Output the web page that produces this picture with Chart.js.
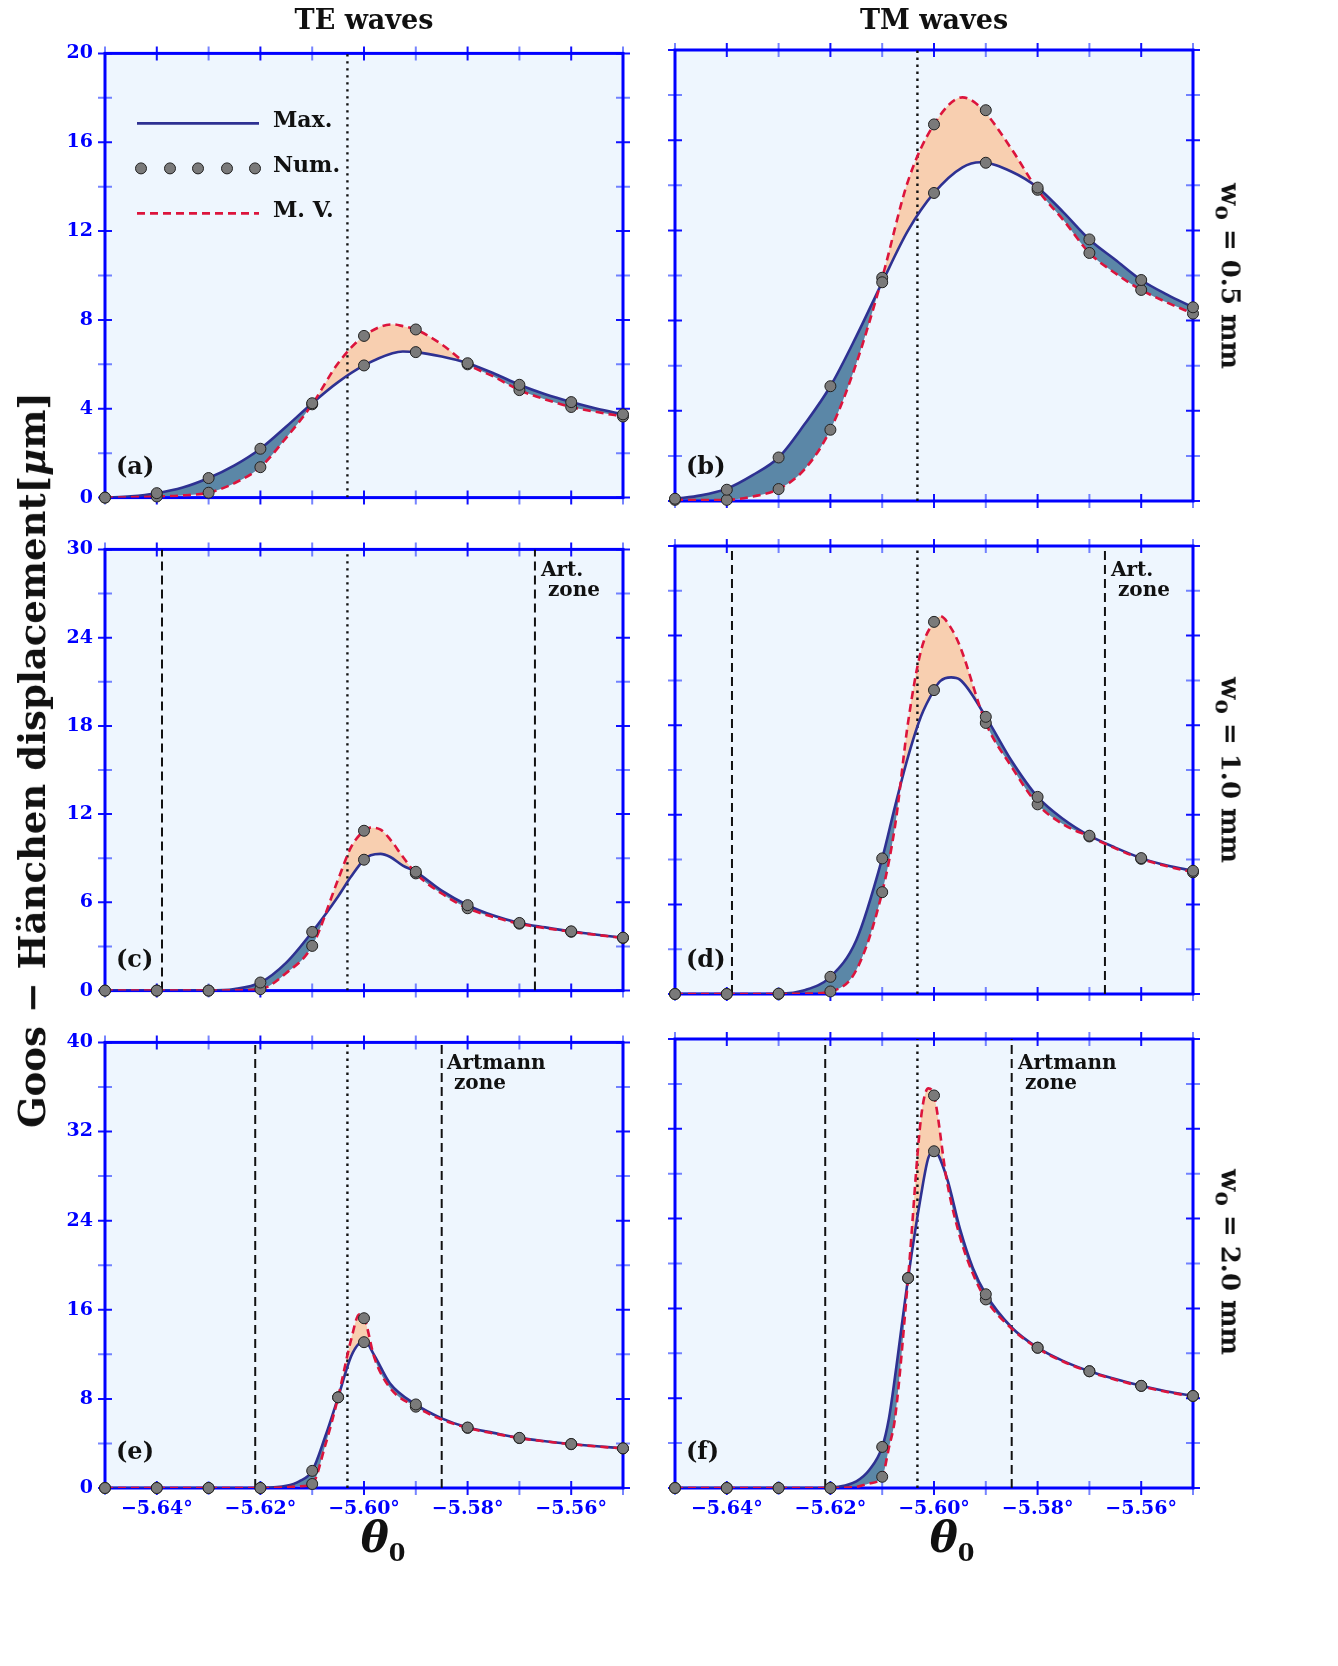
<!DOCTYPE html>
<html>
<head>
<meta charset="utf-8">
<script src="https://cdn.jsdelivr.net/npm/chart.js@4.4.1/dist/chart.umd.min.js"></script>
<style>
body { margin: 0; background: #fff; width: 1338px; height: 1666px; position: relative; overflow: hidden;
       font-family: 'DejaVu Serif', serif; color: #111; }
.t { position: absolute; white-space: nowrap; font-weight: bold; }
.c { transform: translate(-50%, -50%); }
.pl { font-size: 24px; }
.zone { font-size: 20px; line-height: 20px; }
.lg { font-size: 22px; }
.rw { font-size: 26px; transform: translate(-50%, -50%) rotate(90deg); }
.th { font-size: 42px; font-style: italic; }
.th sub { font-size: 24px; font-style: normal; }
</style>
</head>
<body>
<div class="t c" style="left:364px;top:19px;font-size:27px">TE waves</div>
<div class="t c" style="left:934px;top:19px;font-size:27px">TM waves</div>

<div class="t rw" style="left:1228px;top:276px">w<sub>o</sub> = 0.5 mm</div>
<div class="t rw" style="left:1228px;top:770px">w<sub>o</sub> = 1.0 mm</div>
<div class="t rw" style="left:1228px;top:1262px">w<sub>o</sub> = 2.0 mm</div>

<div class="t c" style="left:32px;top:760px;font-size:37px;transform:translate(-50%,-50%) rotate(-90deg)">Goos − Hänchen displacement[<i>μ</i>m]</div>

<div class="t c th" style="left:383px;top:1540px">θ<sub>0</sub></div>
<div class="t c th" style="left:952px;top:1540px">θ<sub>0</sub></div>

<div class="t pl" style="left:116px;top:451px">(a)</div>
<div class="t pl" style="left:686px;top:451px">(b)</div>
<div class="t pl" style="left:116px;top:944px">(c)</div>
<div class="t pl" style="left:686px;top:944px">(d)</div>
<div class="t pl" style="left:116px;top:1436px">(e)</div>
<div class="t pl" style="left:686px;top:1436px">(f)</div>

<div class="t zone" style="left:541px;top:559px">Art.<br>&nbsp;zone</div>
<div class="t zone" style="left:1111px;top:559px">Art.<br>&nbsp;zone</div>
<div class="t zone" style="left:447px;top:1052px">Artmann<br>&nbsp;zone</div>
<div class="t zone" style="left:1018px;top:1052px">Artmann<br>&nbsp;zone</div>

<div class="t lg" style="left:273px;top:106px">Max.</div>
<div class="t lg" style="left:273px;top:151px">Num.</div>
<div class="t lg" style="left:273px;top:196px">M. V.</div>

<script>
// angle grid of the numerical points
const thetaNum = [-5.65, -5.64, -5.63, -5.62, -5.61, -5.60, -5.59, -5.58, -5.57, -5.56, -5.55];
const thetaNumW2 = [-5.65, -5.64, -5.63, -5.62, -5.61, -5.605, -5.60, -5.59, -5.58, -5.57, -5.56, -5.55];

// (a) TE, w0 = 0.5 mm
const thetaA = [-5.65, -5.645, -5.64, -5.635, -5.63, -5.625, -5.62, -5.615, -5.61, -5.605, -5.6, -5.5945, -5.5925, -5.59, -5.585, -5.58, -5.575, -5.57, -5.565, -5.56, -5.555, -5.55];
const maxA = [0, 0.06, 0.2, 0.45, 0.88, 1.45, 2.2, 3.2, 4.25, 5.2, 5.95, 6.5, 6.58, 6.55, 6.35, 6.05, 5.6, 5.08, 4.65, 4.3, 4.0, 3.75];
const mvA = [0, 0.01, 0.05, 0.1, 0.22, 0.65, 1.37, 2.7, 4.2, 6.05, 7.28, 7.8, 7.72, 7.57, 6.9, 6.0, 5.45, 4.84, 4.42, 4.08, 3.85, 3.65];
const numMaxA = [0, 0.2, 0.88, 2.2, 4.25, 5.95, 6.55, 6.05, 5.08, 4.3, 3.75];
const numMvA = [0, 0.05, 0.22, 1.37, 4.2, 7.28, 7.57, 6.0, 4.84, 4.08, 3.65];

// (b) TM, w0 = 0.5 mm
const thetaB = [-5.65, -5.645, -5.64, -5.635, -5.63, -5.625, -5.62, -5.615, -5.61, -5.605, -5.6, -5.5945, -5.591, -5.585, -5.58, -5.575, -5.57, -5.565, -5.56, -5.555, -5.55];
const maxB = [0.1, 0.25, 0.55, 1.15, 1.93, 3.4, 5.09, 7.3, 9.7, 12.0, 13.66, 14.8, 15.02, 14.6, 13.9, 12.8, 11.6, 10.7, 9.8, 9.15, 8.59];
const mvB = [0.05, 0.04, 0.05, 0.2, 0.53, 1.4, 3.16, 6.1, 9.9, 14.2, 16.7, 17.9, 17.45, 15.6, 13.8, 12.45, 11.0, 10.1, 9.36, 8.8, 8.31];
const numMaxB = [0.1, 0.5, 1.93, 5.09, 9.7, 13.66, 15.0, 13.9, 11.6, 9.8, 8.59];
const numMvB = [0.05, 0.05, 0.53, 3.16, 9.9, 16.7, 17.33, 13.8, 11.0, 9.36, 8.31];

// (c) TE, w0 = 1.0 mm
const thetaC = [-5.65, -5.64, -5.63, -5.625, -5.62, -5.615, -5.61, -5.605, -5.6025, -5.6, -5.5987, -5.5968, -5.595, -5.5925, -5.59, -5.585, -5.58, -5.575, -5.57, -5.565, -5.56, -5.555, -5.55];
const maxC = [0, 0, 0, 0.1, 0.55, 1.9, 3.99, 6.4, 7.75, 8.9, 9.2, 9.3, 9.1, 8.5, 8.08, 6.8, 5.81, 5.1, 4.6, 4.3, 4.03, 3.8, 3.6];
const mvC = [0, 0, 0, 0.02, 0.1, 1.2, 3.04, 7.55, 9.75, 10.87, 11.08, 10.95, 10.3, 9.1, 7.97, 6.6, 5.6, 5.0, 4.55, 4.25, 4.0, 3.78, 3.58];
const numMaxC = [0, 0, 0, 0.55, 3.99, 8.9, 8.08, 5.81, 4.6, 4.03, 3.6];
const numMvC = [0, 0, 0, 0.1, 3.04, 10.87, 7.97, 5.6, 4.55, 4.0, 3.58];

// (d) TM, w0 = 1.0 mm
const thetaD = [-5.65, -5.64, -5.63, -5.625, -5.62, -5.615, -5.61, -5.6075, -5.605, -5.6025, -5.6, -5.5988, -5.5967, -5.595, -5.59, -5.585, -5.58, -5.575, -5.57, -5.565, -5.56, -5.555, -5.55];
const maxD = [0, 0, 0.02, 0.25, 1.15, 3.6, 9.08, 12.6, 15.9, 18.6, 20.35, 20.95, 21.2, 21.05, 18.56, 15.6, 13.2, 11.7, 10.6, 9.8, 9.1, 8.6, 8.25];
const mvD = [0, 0, 0, 0.02, 0.17, 1.6, 6.82, 11.3, 18.2, 23.0, 24.92, 25.3, 24.5, 23.3, 18.15, 15.2, 12.7, 11.35, 10.55, 9.75, 9.05, 8.55, 8.15];
const numMaxD = [0, 0, 0.02, 1.15, 9.08, 20.35, 18.56, 13.2, 10.6, 9.1, 8.25];
const numMvD = [0, 0, 0, 0.17, 6.82, 24.92, 18.15, 12.7, 10.55, 9.05, 8.15];

// (e) TE, w0 = 2.0 mm
const thetaE = [-5.65, -5.64, -5.63, -5.625, -5.62, -5.615, -5.6125, -5.61, -5.6075, -5.605, -5.6025, -5.6009, -5.5999, -5.598, -5.595, -5.59, -5.585, -5.58, -5.575, -5.57, -5.565, -5.56, -5.555, -5.55];
const maxE = [0, 0, 0, 0, 0.02, 0.2, 0.6, 1.54, 4.6, 8.14, 11.8, 13.0, 13.2, 11.9, 9.4, 7.5, 6.25, 5.43, 4.95, 4.5, 4.2, 3.95, 3.75, 3.56];
const mvE = [0, 0, 0, 0, 0, 0.05, 0.15, 0.36, 3.8, 8.14, 13.3, 15.6, 15.2, 11.7, 9.0, 7.3, 6.15, 5.4, 4.9, 4.48, 4.18, 3.93, 3.73, 3.55];
const numMaxE = [0, 0, 0, 0, 1.54, 8.14, 13.09, 7.5, 5.43, 4.5, 3.95, 3.56];
const numMvE = [0, 0, 0, 0, 0.36, 8.14, 15.24, 7.3, 5.4, 4.48, 3.93, 3.55];

// (f) TM, w0 = 2.0 mm
const thetaF = [-5.65, -5.64, -5.63, -5.625, -5.62, -5.615, -5.6125, -5.61, -5.6087, -5.6075, -5.605, -5.6025, -5.6011, -5.6, -5.5975, -5.595, -5.5925, -5.59, -5.585, -5.58, -5.575, -5.57, -5.565, -5.56, -5.555, -5.55];
const maxF = [0, 0, 0, 0, 0.05, 0.6, 1.6, 3.66, 6.2, 10.0, 18.7, 26.1, 29.4, 30.05, 27.6, 23.1, 19.6, 17.26, 14.3, 12.5, 11.3, 10.4, 9.7, 9.1, 8.6, 8.2];
const mvF = [0, 0, 0, 0, 0, 0.1, 0.4, 1.0, 3.6, 6.3, 18.7, 33.0, 35.6, 34.97, 27.3, 22.4, 19.1, 16.8, 14.2, 12.45, 11.25, 10.35, 9.65, 9.05, 8.55, 8.15];
const numMaxF = [0, 0, 0, 0, 3.66, 18.7, 30.0, 17.26, 12.5, 10.4, 9.1, 8.2];
const numMvF = [0, 0, 0, 0, 1.0, 18.7, 34.97, 16.8, 12.5, 10.4, 9.1, 8.2];

// reference lines
const resonanceTheta = -5.6032;
const artZone = [null, [-5.639, -5.567], [-5.621, -5.585]];

// axes
const yMaxRow = [20, 30, 40];
const yStepRow = [2, 3, 4];
const xMin = -5.65, xMax = -5.55, xStep = 0.01;

const rowTop = [50, 546, 1039], rowBottom = [501, 994, 1488];
const colLeft = [105, 675], colRight = [623, 1193];

const navy = '#2e3192', crimson = '#dc143c', peach = '#f8cfb0', steel = '#5b87a7';
const tickFont = { family: 'DejaVu Serif', weight: 'bold', size: 19 };

function pts(xs, ys) {
  return xs.map((x, i) => ({ x: x, y: ys[i] }));
}

function vline(x, top, dash, w) {
  return {
    data: [{ x: x, y: 0 }, { x: x, y: top }],
    borderColor: '#111', borderWidth: w, borderDash: dash,
    pointRadius: 0, pointHoverRadius: 0, fill: false, order: 5
  };
}

const frame = {
  id: 'frame',
  beforeDraw(c) {
    const a = c.chartArea, g = c.ctx;
    g.save();
    g.fillStyle = '#eef6fe';
    g.fillRect(a.left, a.top, a.right - a.left, a.bottom - a.top);
    g.restore();
  },
  beforeDatasetsDraw(c) {
    const a = c.chartArea, g = c.ctx;
    const xs = c.scales.x, ys = c.scales.y;
    const step = c.options.scales.y.ticks.stepSize;
    const yTop = c.options.scales.y.max;
    g.save();
    g.lineWidth = 2;
    for (let k = 0; k <= 10; k++) {
      const px = xs.getPixelForValue(xMin + k * xStep);
      g.strokeStyle = k % 2 ? '#1010ff' : 'rgba(60,80,255,0.7)';
      g.beginPath();
      g.moveTo(px, a.top - 7); g.lineTo(px, a.top + 7);
      g.moveTo(px, a.bottom - 7); g.lineTo(px, a.bottom + 7);
      g.stroke();
    }
    for (let k = 0; k * step <= yTop; k++) {
      const py = ys.getPixelForValue(k * step);
      g.strokeStyle = k % 2 ? 'rgba(60,80,255,0.7)' : '#1010ff';
      g.beginPath();
      g.moveTo(a.left - 7, py); g.lineTo(a.left + 7, py);
      g.moveTo(a.right - 7, py); g.lineTo(a.right + 7, py);
      g.stroke();
    }
    g.strokeStyle = '#0000ff';
    g.lineWidth = 3;
    g.strokeRect(a.left, a.top, a.right - a.left, a.bottom - a.top);
    g.restore();
  },
  afterDraw(c) {
    if (!c.options.plugins.frame || !c.options.plugins.frame.legend) return;
    const a = c.chartArea, g = c.ctx;
    g.save();
    g.lineWidth = 2.6;
    g.strokeStyle = navy;
    g.beginPath(); g.moveTo(a.left + 32, a.top + 70); g.lineTo(a.left + 154, a.top + 70); g.stroke();
    g.strokeStyle = crimson;
    g.setLineDash([8, 5]);
    g.beginPath(); g.moveTo(a.left + 32, a.top + 160); g.lineTo(a.left + 154, a.top + 160); g.stroke();
    g.setLineDash([]);
    g.fillStyle = '#7a7a7a'; g.strokeStyle = '#222'; g.lineWidth = 1;
    for (const dx of [36, 65, 93, 122, 150]) {
      g.beginPath(); g.arc(a.left + dx, a.top + 115, 5.5, 0, Math.PI * 2); g.fill(); g.stroke();
    }
    g.restore();
  }
};

function panel(row, col, p) {
  const yMax = yMaxRow[row], step = yStepRow[row];
  const leftW = col === 0 ? 85 : 20;
  const bottomH = row === 2 ? 50 : 20;
  const boxLeft = colLeft[col] - leftW;
  const boxRight = colRight[col] + (col === 0 ? 17 : 22);
  const boxTop = rowTop[row] - 20;
  const boxBottom = rowBottom[row] + bottomH;

  const cv = document.createElement('canvas');
  cv.width = boxRight - boxLeft;
  cv.height = boxBottom - boxTop;
  cv.style.cssText = 'position:absolute;left:' + boxLeft + 'px;top:' + boxTop + 'px';
  document.body.insertBefore(cv, document.body.firstChild);

  const sets = [
    { label: 'Max.', data: pts(p.theta, p.max), borderColor: navy, borderWidth: 2.6,
      pointRadius: 0, pointHoverRadius: 0, fill: false, cubicInterpolationMode: 'monotone', order: 3 },
    { label: 'M. V.', data: pts(p.theta, p.mv), borderColor: crimson, borderWidth: 2.6, borderDash: [8, 5],
      pointRadius: 0, pointHoverRadius: 0, fill: { target: 0, above: peach, below: steel },
      cubicInterpolationMode: 'monotone', order: 2 },
    { label: 'Num.', data: pts(p.numTheta, p.numMax), showLine: false, pointRadius: 5.5,
      pointBackgroundColor: '#7a7a7a', pointBorderColor: '#222', pointBorderWidth: 1, clip: false, order: 0 },
    { label: 'Num.', data: pts(p.numTheta, p.numMv), showLine: false, pointRadius: 5.5,
      pointBackgroundColor: '#7a7a7a', pointBorderColor: '#222', pointBorderWidth: 1, clip: false, order: 0 },
    vline(resonanceTheta, yMax, [2.4, 4.6], 2.4)
  ];
  if (artZone[row]) {
    sets.push(vline(artZone[row][0], yMax, [9, 5], 2));
    sets.push(vline(artZone[row][1], yMax, [9, 5], 2));
  }

  new Chart(cv, {
    type: 'line',
    data: { datasets: sets },
    plugins: [frame],
    options: {
      responsive: false,
      animation: false,
      events: [],
      layout: { padding: { top: 20, right: col === 0 ? 17 : 22, left: 0, bottom: 0 } },
      plugins: {
        legend: { display: false },
        tooltip: { enabled: false },
        filler: { drawTime: 'beforeDatasetsDraw' },
        frame: { legend: !!p.legend }
      },
      scales: {
        x: {
          type: 'linear', min: xMin, max: xMax,
          afterFit: s => { s.height = bottomH; },
          grid: { display: false, drawTicks: false }, border: { display: false },
          ticks: {
            display: row === 2, stepSize: xStep, autoSkip: false, maxRotation: 0, padding: 10,
            color: '#0000ff', font: tickFont,
            callback: v => Math.abs(Math.round(v * 100)) % 2 === 0 ? '−' + Math.abs(v).toFixed(2) + '°' : ''
          }
        },
        y: {
          type: 'linear', min: 0, max: yMax,
          afterFit: s => { s.width = leftW; },
          grid: { display: false, drawTicks: false }, border: { display: false },
          ticks: {
            display: col === 0, stepSize: step, padding: 12, color: '#0000ff', font: tickFont,
            callback: v => Math.round(v / step) % 2 === 0 ? String(v) : ''
          }
        }
      }
    }
  });
}

panel(0, 0, { theta: thetaA, max: maxA, mv: mvA, numTheta: thetaNum, numMax: numMaxA, numMv: numMvA, legend: true });
panel(0, 1, { theta: thetaB, max: maxB, mv: mvB, numTheta: thetaNum, numMax: numMaxB, numMv: numMvB });
panel(1, 0, { theta: thetaC, max: maxC, mv: mvC, numTheta: thetaNum, numMax: numMaxC, numMv: numMvC });
panel(1, 1, { theta: thetaD, max: maxD, mv: mvD, numTheta: thetaNum, numMax: numMaxD, numMv: numMvD });
panel(2, 0, { theta: thetaE, max: maxE, mv: mvE, numTheta: thetaNumW2, numMax: numMaxE, numMv: numMvE });
panel(2, 1, { theta: thetaF, max: maxF, mv: mvF, numTheta: thetaNumW2, numMax: numMaxF, numMv: numMvF });
</script>
</body>
</html>
